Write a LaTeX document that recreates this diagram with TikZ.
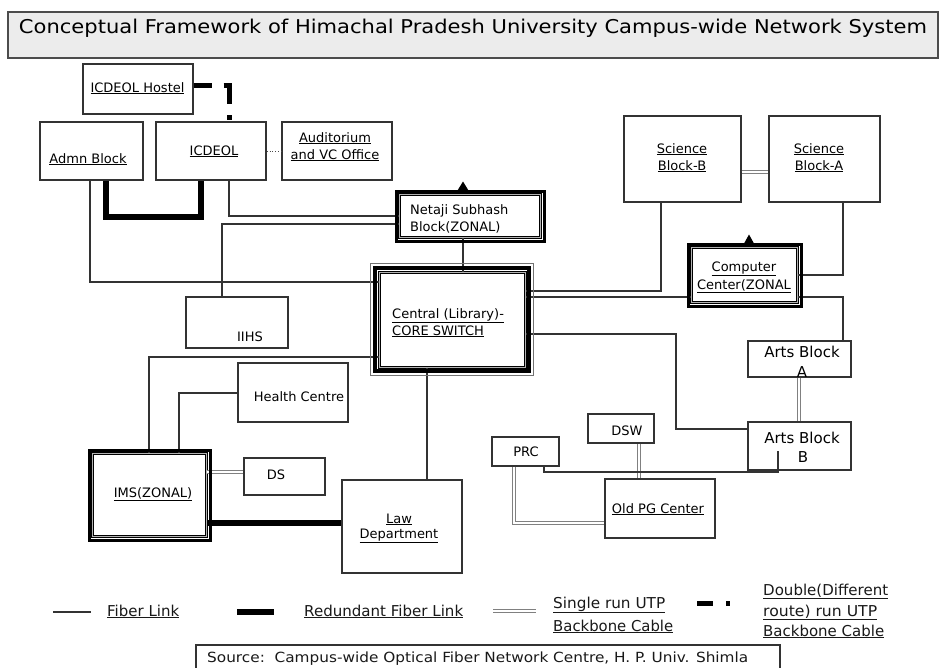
\documentclass[tikz,border=0pt]{standalone}
\usepackage{fontspec}
\setmainfont{DejaVu Sans}
\usepackage{graphicx}
\usetikzlibrary{fit}
\newcommand\fw[2]{\resizebox{#1}{\height}{#2}}
\newcommand\uln[1]{\underline{#1}}
\begin{document}
\begin{tikzpicture}[x=1pt,y=-1pt,
  box/.style={draw=black!80, line width=1.2pt, fill=white, inner sep=0pt},
  zonal/.style={draw=black, line width=1pt, double=gray!60, double distance=1pt, fill=white, inner sep=0pt},
  lbl/.style={font=\fontsize{13}{15}\selectfont, text=black, inner sep=0pt, anchor=base},
  lblw/.style={lbl, anchor=base west},
  big/.style={font=\fontsize{15}{17}\selectfont},
  leg/.style={font=\fontsize{15}{17}\selectfont, text=black!90, inner sep=0pt, anchor=base west},
  fiber/.style={draw=black!80, line width=1.1pt},
  redund/.style={draw=black, line width=5.5pt},
  utp/.style={draw=black!50, line width=0.9pt, double=white, double distance=1.6pt},
  dutp/.style={draw=black, line width=5pt, dash pattern=on 18pt off 12pt on 24pt off 11.5pt on 5pt off 10pt},
  dotlink/.style={draw=black!70, line width=0.9pt, dotted},
  outerline/.style={draw=black, line width=3pt},
]
\useasboundingbox (0,0) rectangle (939,667);
\fill[white] (0,0) rectangle (939,667);

% title
\node[draw=black!70, line width=1.2pt, fill=gray!15, inner sep=0pt, fit={(8,12)(938,58)},
      font=\fontsize{19}{21}\selectfont, text=black] (title)
  {\fw{908pt}{Conceptual Framework of Himachal Pradesh University Campus-wide Network System}};

% plain boxes
\node[box, fit={(83,64)(193,114)}] (hostel) {};
\node[box, fit={(40,122)(143,180)}] (admn) {};
\node[box, fit={(156,122)(266,180)}] (icdeol) {};
\node[box, fit={(282,122)(392,180)}] (audit) {};
\node[box, fit={(624,116)(741,202)}] (scib) {};
\node[box, fit={(769,116)(880,202)}] (scia) {};
\node[box, fit={(186,297)(288,348)}] (iihs) {};
\node[box, fit={(238,363)(348,422)}] (health) {};
\node[box, fit={(244,458)(325,495)}] (ds) {};
\node[box, fit={(342,480)(462,573)}] (law) {};
\node[box, fit={(588,414)(654,443)}] (dsw) {};
\node[box, fit={(492,437)(559,466)}] (prc) {};
\node[box, fit={(605,479)(715,538)}] (oldpg) {};
\node[box, fit={(748,341)(851,377)}] (artsa) {};
\node[box, fit={(748,422)(851,470)}] (artsb) {};

% zonal boxes
\node[zonal, fit={(399.5,194.5)(540.5,237.5)}] (netaji) {};
\node[zonal, fit={(691.5,247.5)(797.5,302.5)}] (cc) {};
\node[zonal, fit={(92.5,453.5)(206.5,536.5)}] (ims) {};
\node[zonal, fit={(379,272)(525,367)}] (central) {};

% routing points
\coordinate (j1) at (90,282);
\coordinate (r1a) at (106,217);
\coordinate (r1b) at (201,217);
\coordinate (j2) at (229,216);
\coordinate (j3) at (222,224);
\coordinate (d1) at (229,85);
\coordinate (j4) at (463,240);
\coordinate (j5) at (661,291);
\coordinate (j6) at (600,297);
\coordinate (j7) at (843,275);
\coordinate (j8) at (843,297);
\coordinate (u1) at (755,172);
\coordinate (u2) at (799,400);
\coordinate (j9) at (676,334);
\coordinate (j9b) at (676,429);
\coordinate (j10) at (149,357);
\coordinate (j11) at (179,393);
\coordinate (u3) at (225,472);
\coordinate (r2) at (270,523);
\coordinate (j12) at (427,420);
\coordinate (u4) at (639,460);
\coordinate (u5) at (514,523);
\coordinate (j13) at (544,472);
\coordinate (j13b) at (778,451);

% connectors
\draw[fiber] (admn.south -| j1) |- (central.west |- j1);
\draw[redund] (admn.south -| r1a) -- (r1a) -- (r1b) -- (icdeol.south -| r1b);
\draw[fiber] (icdeol.south -| j2) |- (netaji.west |- j2);
\draw[fiber] (netaji.west |- j3) -| (iihs.north -| j3);
\draw[dotlink] (icdeol.east) -- (audit.west);
\draw[dutp] (hostel.east |- d1) -| (icdeol.north -| d1);
\draw[fiber] (netaji.south -| j4) -- (central.north -| j4);
\draw[fiber] (scib.south -| j5) |- (central.east |- j5);
\draw[fiber] (central.east |- j6) -- (cc.west |- j6);
\draw[fiber] (scia.south -| j7) |- (cc.east |- j7);
\draw[fiber] (cc.east |- j8) -| (artsa.north -| j8);
\draw[utp] (scib.east |- u1) -- (scia.west |- u1);
\draw[utp] (artsa.south -| u2) -- (artsb.north -| u2);
\draw[fiber] (central.east |- j9) -- (j9) -- (j9b) -- (artsb.west |- j9b);
\draw[fiber] (central.west |- j10) -| (ims.north -| j10);
\draw[fiber] (health.west |- j11) -| (ims.north -| j11);
\draw[utp] (ims.east |- u3) -- (ds.west |- u3);
\draw[redund] (ims.east |- r2) -- (law.west |- r2);
\draw[fiber] (central.south -| j12) -- (law.north -| j12);
\draw[utp] (dsw.south -| u4) -- (oldpg.north -| u4);
\draw[utp] (prc.south -| u5) |- (oldpg.west |- u5);
\draw[fiber] (prc.south -| j13) |- (j13b |- j13) -- (j13b);

% outer borders of zonal boxes
\foreach \n in {netaji,cc,ims}
  \draw[outerline] ([shift={(-3pt,3pt)}]\n.north west) rectangle ([shift={(3pt,-3pt)}]\n.south east);
\draw[draw=black, line width=4pt] ([shift={(-3.5pt,3.5pt)}]central.north west) rectangle ([shift={(3.5pt,-3.5pt)}]central.south east);
\draw[draw=black!55, line width=1pt] ([shift={(-8pt,8pt)}]central.north west) rectangle ([shift={(8pt,-8pt)}]central.south east);

% zonal markers
\fill[black] (netaji.north -| j4) ++(-5.5,-3.5) -- ++(11,0) -- ++(-5.5,-9) -- cycle;
\coordinate (m2) at (749,0);
\fill[black] (cc.north -| m2) ++(-5,-3.5) -- ++(10,0) -- ++(-5,-9) -- cycle;

% labels
\node[lbl] (thostel) at (137.5,92) {\uln{ICDEOL Hostel}};
\node[lbl] (tadmn) at (88,163) {\uln{Admn Block}};
\node[lbl] (ticdeol) at (214,155) {\uln{ICDEOL}};
\node[lbl] (taudit1) at (335,142) {\uln{Auditorium}};
\node[lbl] (taudit2) at (335,159) {\uln{and VC Office}};
\node[lblw] (tnetaji1) at (410,214) {Netaji Subhash};
\node[lblw] (tnetaji2) at (410,231) {Block(ZONAL)};
\node[lbl] (tscib1) at (682,153) {\uln{Science}};
\node[lbl] (tscib2) at (682,170) {\uln{Block-B}};
\node[lbl] (tscia1) at (819,153) {\uln{Science}};
\node[lbl] (tscia2) at (819,170) {\uln{Block-A}};
\node[lblw] (tcentral1) at (392,318) {\uln{Central (Library)-}};
\node[lblw] (tcentral2) at (392,335) {\uln{CORE SWITCH}};
\node[lbl] (tcc1) at (744,271) {\uln{Computer}};
\node[lbl] (tcc2) at (744,289) {\uln{Center(ZONAL}};
\node[lbl, big] (tartsa1) at (802,357) {Arts Block};
\node[lbl, big] (tartsa2) at (802,377) {A};
\node[lbl, big] (tartsb1) at (802,443) {Arts Block};
\node[lbl, big] (tartsb2) at (803,462) {B};
\node[lbl] (tiihs) at (250,341) {IIHS};
\node[lbl] (thealth) at (299,401) {Health Centre};
\node[lbl] (tims) at (153,497) {\uln{IMS(ZONAL)}};
\node[lbl] (tds) at (276,479) {DS};
\node[lbl] (tlaw1) at (399,523) {\uln{Law}};
\node[lbl] (tlaw2) at (399,538) {\uln{Department}};
\node[lbl] (tdsw) at (627,435) {DSW};
\node[lbl] (tprc) at (526,456) {PRC};
\node[lbl] (toldpg) at (658,513) {\uln{Old PG Center}};

% legend
\coordinate (lf1) at (53,612);   \coordinate (lf2) at (91,612);
\coordinate (lr1) at (237,612);  \coordinate (lr2) at (274,612);
\coordinate (lu1) at (493,611);  \coordinate (lu2) at (536,611);
\coordinate (ld1) at (697,603);  \coordinate (ld2) at (713,603);
\draw[fiber] (lf1) -- (lf2);
\draw[redund] (lr1) -- (lr2);
\draw[utp] (lu1) -- (lu2);
\draw[draw=black, line width=5pt] (ld1) -- (ld2);
\fill[black] (726,600.5) rectangle (730,605.5);
\node[leg] (lg1) at (107,616) {\fw{72pt}{\uln{Fiber Link}}};
\node[leg] (lg2) at (304,616) {\fw{159pt}{\uln{Redundant Fiber Link}}};
\node[leg] (lg3) at (553,608) {\fw{112pt}{\uln{Single run UTP}}};
\node[leg] (lg4) at (553,631) {\fw{120pt}{\uln{Backbone Cable}}};
\node[leg] (lg5) at (763,595) {\fw{125pt}{\uln{Double(Different}}};
\node[leg] (lg6) at (763,616) {\fw{114pt}{\uln{route) run UTP}}};
\node[leg] (lg7) at (763,636) {\fw{121pt}{\uln{Backbone Cable}}};

% source
\coordinate (s1) at (196,670); \coordinate (s2) at (196,645);
\coordinate (s3) at (780,645); \coordinate (s4) at (780,670);
\draw[draw=black!80, line width=1.2pt] (s1) -- (s2) -- (s3) -- (s4);
\node[leg, font=\fontsize{14}{16}\selectfont] (source) at (207,662)
  {\fw{541pt}{Source:\ \ Campus-wide Optical Fiber Network Centre, H. P. Univ. Shimla}};
\end{tikzpicture}
\end{document}
